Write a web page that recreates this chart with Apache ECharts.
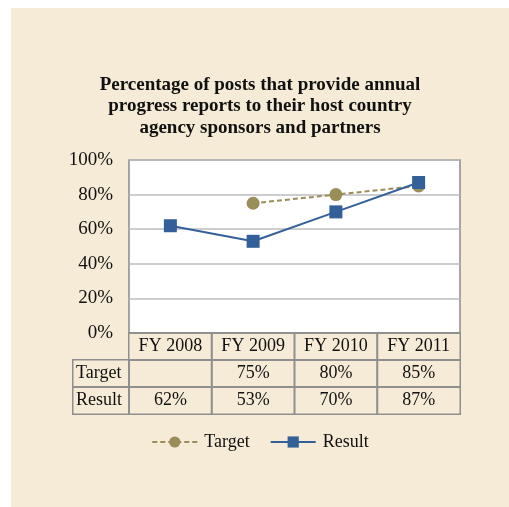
<!DOCTYPE html>
<html>
<head>
<meta charset="utf-8">
<script src="https://cdn.jsdelivr.net/npm/echarts@6/dist/echarts.min.js"></script>
<style>
html,body{margin:0;padding:0;background:#ffffff;width:509px;height:507px;overflow:hidden;}
#chart{position:absolute;left:11px;top:8px;width:498px;height:499px;}
</style>
</head>
<body>
<div id="chart"></div>
<script>
const titleText = 'Percentage of posts that provide annual\nprogress reports to their host country\nagency sponsors and partners';
const categories = ['FY 2008', 'FY 2009', 'FY 2010', 'FY 2011'];
const targetValues = [null, 75, 80, 85];
const resultValues = [62, 53, 70, 87];
const yTicks = [0, 20, 40, 60, 80, 100];
const rowNames = ['Target', 'Result'];

const SERIF = '"Liberation Serif", "DejaVu Serif", serif';
const TARGET_COLOR = '#9B8D58';
const RESULT_COLOR = '#34609A';
const CELL_BORDER = '#8f8f8f';

const fmtPct = v => (v === null || v === undefined) ? '' : v + '%';

// table cells: row 0 header, row 1 target, row 2 result
const tableData = [];
categories.forEach((c, i) => {
  tableData.push({ value: [i, 0, 0], label: { formatter: c } });
  tableData.push({ value: [i, 1, 0], label: { formatter: fmtPct(targetValues[i]) } });
  tableData.push({ value: [i, 2, 0], label: { formatter: fmtPct(resultValues[i]) } });
});
const rowLabelData = rowNames.map((n, j) => ({ value: [0, j, 0], label: { formatter: n } }));

const chart = echarts.init(document.getElementById('chart'), null, { renderer: 'canvas' });
chart.setOption({
  backgroundColor: '#F5EBD6',
  animation: false,
  textStyle: { fontFamily: SERIF },
  title: {
    text: titleText,
    left: 'center',
    top: 61,
    textStyle: { fontFamily: SERIF, fontSize: 19, fontWeight: 'bold', color: '#111', lineHeight: 21.5 }
  },
  legend: {
    bottom: 51,
    left: 'center',
    itemWidth: 45,
    itemHeight: 14,
    itemGap: 20,
    textStyle: { fontFamily: SERIF, fontSize: 18, color: '#111', padding: [0, 0, 0, 2] },
    data: ['Target', 'Result']
  },
  grid: [
    { left: 118, top: 152, width: 331, height: 173, show: true, backgroundColor: '#ffffff', borderColor: '#8a8a8a', borderWidth: 1.5 },
    { left: 118, top: 325, width: 331, height: 81 },
    { left: 62, top: 352, width: 56, height: 54 }
  ],
  xAxis: [
    { type: 'category', gridIndex: 0, data: categories, boundaryGap: true,
      axisLine: { show: true, lineStyle: { color: '#8a8a8a', width: 1.5 } },
      axisTick: { show: false }, axisLabel: { show: false } },
    { type: 'category', gridIndex: 1, data: categories, show: false },
    { type: 'category', gridIndex: 2, data: ['label'], show: false }
  ],
  yAxis: [
    { type: 'value', gridIndex: 0, min: 0, max: 100, interval: 20,
      axisLine: { show: false }, axisTick: { show: false },
      axisLabel: { formatter: '{value}%', fontFamily: SERIF, fontSize: 19, color: '#111', margin: 16 },
      splitLine: { lineStyle: { color: '#bdbdbd', width: 1.5 } } },
    { type: 'category', gridIndex: 1, data: ['hdr', 'Target', 'Result'], inverse: true, show: false },
    { type: 'category', gridIndex: 2, data: rowNames, inverse: true, show: false }
  ],
  series: [
    { name: 'Target', type: 'line', xAxisIndex: 0, yAxisIndex: 0, data: targetValues,
      symbol: 'circle', symbolSize: 13, connectNulls: false,
      lineStyle: { color: TARGET_COLOR, width: 2, type: [5, 3] },
      itemStyle: { color: TARGET_COLOR } },
    { name: 'Result', type: 'line', xAxisIndex: 0, yAxisIndex: 0, data: resultValues,
      symbol: 'rect', symbolSize: 13,
      lineStyle: { color: RESULT_COLOR, width: 2 },
      itemStyle: { color: RESULT_COLOR } },
    { name: 'table', type: 'heatmap', xAxisIndex: 1, yAxisIndex: 1, data: tableData,
      itemStyle: { color: 'rgba(0,0,0,0)', borderColor: CELL_BORDER, borderWidth: 1.5 },
      label: { show: true, fontFamily: SERIF, fontSize: 18, color: '#111' },
      emphasis: { disabled: true } },
    { name: 'rows', type: 'heatmap', xAxisIndex: 2, yAxisIndex: 2, data: rowLabelData,
      itemStyle: { color: 'rgba(0,0,0,0)', borderColor: CELL_BORDER, borderWidth: 1.5 },
      label: { show: true, position: 'insideLeft', distance: 4, fontFamily: SERIF, fontSize: 18, color: '#111' },
      emphasis: { disabled: true } }
  ]
});
</script>
</body>
</html>
